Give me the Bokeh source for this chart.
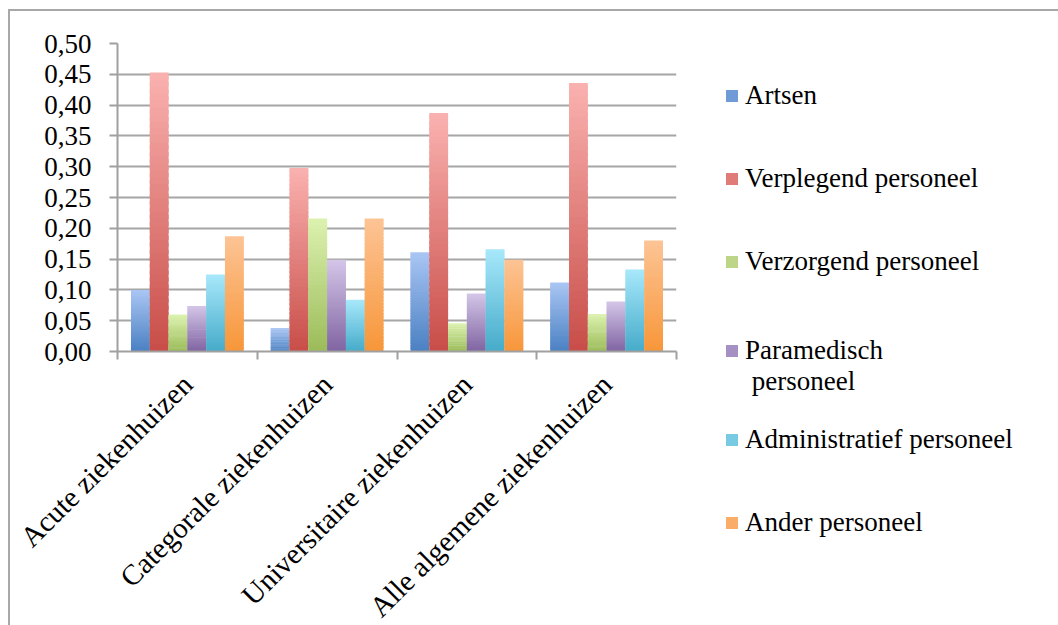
import math
import numpy as np
from bokeh.plotting import figure
from bokeh.models import FixedTicker, Legend, LegendItem, Range1d, ColumnDataSource
from bokeh.embed import file_html
from bokeh.resources import INLINE

categories = ["Acute ziekenhuizen", "Categorale ziekenhuizen",
              "Universitaire ziekenhuizen", "Alle algemene ziekenhuizen"]
series_names = ["Artsen", "Verplegend personeel", "Verzorgend personeel",
                "\u200b\nParamedisch\n personeel", "Administratief personeel", "Ander personeel"]
artsen = [0.100, 0.038, 0.161, 0.112]
verplegend = [0.453, 0.298, 0.387, 0.436]
verzorgend = [0.060, 0.216, 0.046, 0.061]
paramedisch = [0.074, 0.149, 0.094, 0.081]
administratief = [0.125, 0.084, 0.166, 0.133]
ander = [0.187, 0.216, 0.149, 0.180]
y_ticks = [0.00, 0.05, 0.10, 0.15, 0.20, 0.25, 0.30, 0.35, 0.40, 0.45, 0.50]
y_labels = ["0,00", "0,05", "0,10", "0,15", "0,20", "0,25", "0,30", "0,35", "0,40", "0,45", "0,50"]

series_values = [artsen, verplegend, verzorgend, paramedisch, administratief, ander]
colors_top = ["#aac6f4", "#fab2b0", "#dcf2b0", "#d4c6e8", "#a8e8fb", "#fdc495"]
colors_bot = ["#4a80c2", "#c84d48", "#9bbb59", "#8064a2", "#45abc9", "#f79639"]
colors_mid = ["#6f9ad6", "#e07c78", "#bcd586", "#a590c4", "#78c9e2", "#faad68"]

FONT = "Liberation Serif"
FS = "27px"

p = figure(frame_width=559, frame_height=308, output_backend="svg", toolbar_location=None,
           x_range=Range1d(0, 4), y_range=Range1d(0, 0.5),
           min_border_left=107, min_border_right=382, min_border_top=32, min_border_bottom=274)
p.styles = {"margin-left": "8px", "margin-top": "9px",
            "border-left": "2px solid #a8a8a8", "border-top": "2px solid #a8a8a8"}
p.outline_line_color = None
p.background_fill_color = "white"
p.border_fill_color = "white"

def hex2rgb(h):
    h = h.lstrip("#")
    return np.array([int(h[i:i + 2], 16) for i in (0, 2, 4)], dtype=float)

def rgb2hex(c):
    return "#%02x%02x%02x" % tuple(int(round(v)) for v in c)

NSLICE = 40
bar_w = 0.1345
for j, vals in enumerate(series_values):
    top_c = hex2rgb(colors_top[j]); bot_c = hex2rgb(colors_bot[j])
    xs, bots, tops, cols = [], [], [], []
    for i, v in enumerate(vals):
        xc = i + 0.5 + (j - 2.5) * bar_w
        for k in range(NSLICE):
            f0 = k / NSLICE; f1 = (k + 1) / NSLICE
            f1x = min(1.0, f1 + 0.6 / NSLICE)
            xs.append(xc); bots.append(v * f0); tops.append(v * f1x)
            cols.append(rgb2hex(bot_c + (top_c - bot_c) * (f0 + f1) / 2))
    src = ColumnDataSource(dict(x=xs, bottom=bots, top=tops, color=cols))
    p.vbar(x="x", bottom="bottom", top="top", width=bar_w, fill_color="color",
           line_color=None, source=src)

# legend swatch renderers (zero-height bars, only for the legend)
legend_items = []
for j, name in enumerate(series_names):
    r = p.vbar(x=[0.5], bottom=[0], top=[0], width=bar_w, fill_color=colors_mid[j], line_color=None)
    legend_items.append(LegendItem(label=name, renderers=[r], index=0))

legend = Legend(items=legend_items, location=(48, -212),
                label_text_font="serif", label_text_font_size=FS,
                label_text_color="black")
legend.glyph_width = 15
legend.glyph_height = 15
legend.label_height = 81
legend.spacing = 2
legend.padding = 0
legend.margin = 0
legend.label_standoff = 6
legend.background_fill_alpha = 0
legend.border_line_color = None
p.add_layout(legend, "right")

# y axis
p.yaxis.ticker = FixedTicker(ticks=y_ticks)
p.yaxis.major_label_overrides = {t: l for t, l in zip(y_ticks, y_labels)}
p.yaxis.major_label_text_font = FONT
p.yaxis.major_label_text_font_size = FS
p.yaxis.major_label_text_color = "black"
p.yaxis.major_label_standoff = 18
p.yaxis.axis_line_color = "#a0a0a0"
p.yaxis.axis_line_width = 2
p.yaxis.major_tick_line_color = "#a0a0a0"
p.yaxis.major_tick_line_width = 2
p.yaxis.major_tick_out = 8
p.yaxis.major_tick_in = 0
p.yaxis.minor_tick_line_color = None

# x axis
cat_pos = [i + 0.5 for i in range(len(categories))]
p.xaxis.ticker = FixedTicker(ticks=cat_pos, minor_ticks=list(range(len(categories) + 1)))
p.xaxis.major_label_overrides = {t: l for t, l in zip(cat_pos, categories)}
p.xaxis.major_label_orientation = math.pi / 4
p.xaxis.major_label_text_font = FONT
p.xaxis.major_label_text_font_size = "29px"
p.xaxis.major_label_text_color = "black"
p.xaxis.major_label_standoff = 20
p.xaxis.axis_line_color = "#a0a0a0"
p.xaxis.axis_line_width = 2
p.xaxis.major_tick_line_color = None
p.xaxis.minor_tick_line_color = "#a0a0a0"
p.xaxis.minor_tick_line_width = 2
p.xaxis.minor_tick_out = 8
p.xaxis.minor_tick_in = 0

p.xgrid.visible = False
p.ygrid.grid_line_color = "#a6a6a6"
p.ygrid.grid_line_width = 2

open("out.html", "w").write(file_html(p, INLINE))
